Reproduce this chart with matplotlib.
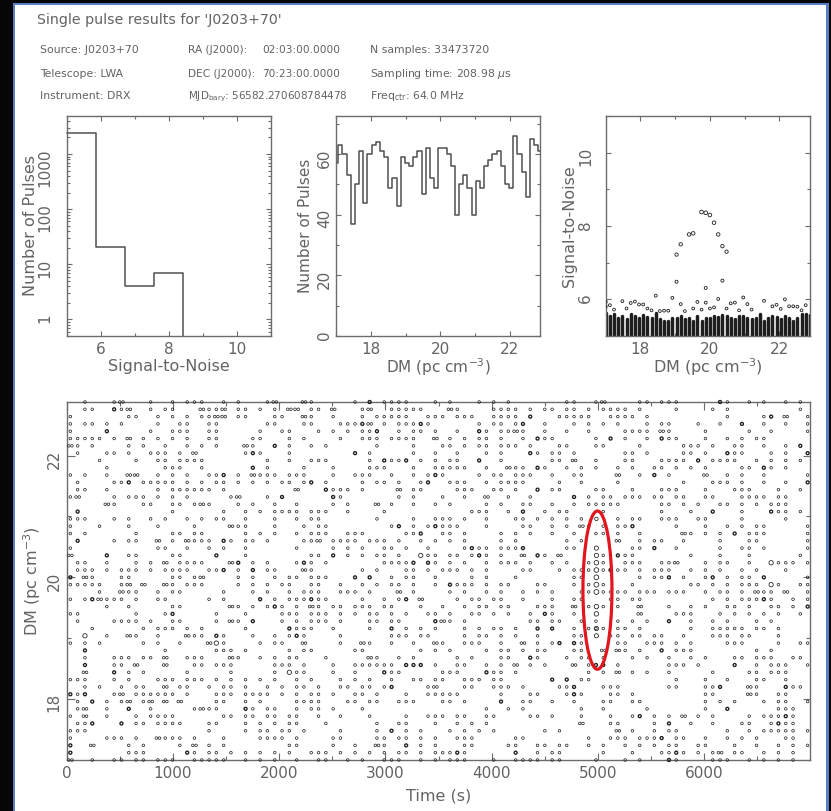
import matplotlib
matplotlib.use("Agg")
import matplotlib.pyplot as plt
from matplotlib.patches import Ellipse, Rectangle
from matplotlib.ticker import MultipleLocator, LogLocator, NullFormatter, FuncFormatter

# ------------------------------------------------------------------ data
dm_values = [17.00, 17.12, 17.24, 17.36, 17.48, 17.60, 17.72, 17.84, 17.96, 18.08,
             18.20, 18.32, 18.44, 18.56, 18.68, 18.80, 18.92, 19.04, 19.16, 19.28,
             19.40, 19.52, 19.64, 19.76, 19.88, 20.00, 20.12, 20.24, 20.36, 20.48,
             20.60, 20.72, 20.84, 20.96, 21.08, 21.20, 21.32, 21.44, 21.56, 21.68,
             21.80, 21.92, 22.04, 22.16, 22.28, 22.40, 22.52, 22.64, 22.76, 22.88]

pulses_per_dm = [57, 63, 60, 53, 37, 50, 61, 44, 60, 63,
                 64, 61, 59, 49, 52, 43, 59, 57, 56, 59,
                 61, 47, 62, 52, 49, 62, 62, 60, 56, 40,
                 50, 53, 49, 40, 51, 49, 56, 58, 60, 61,
                 56, 50, 49, 66, 60, 54, 46, 65, 63, 61]

snr_bin_edges = [5.0, 5.857, 6.714, 7.571, 8.429, 9.286, 10.143, 11.0]
snr_bin_counts = [2450, 21, 4, 7, 0, 0, 0]

# top of the dense block of S/N ~5 candidates at every DM trial
column_top_snr = [5.62, 5.55, 5.60, 5.50, 5.55, 5.45, 5.60, 5.55, 5.50, 5.58,
                  5.52, 5.50, 5.62, 5.45, 5.42, 5.42, 5.50, 5.48, 5.55, 5.45,
                  5.50, 5.40, 5.55, 5.42, 5.50, 5.48, 5.55, 5.52, 5.58, 5.55,
                  5.50, 5.45, 5.55, 5.55, 5.50, 5.45, 5.48, 5.60, 5.42, 5.50,
                  5.55, 5.52, 5.45, 5.55, 5.50, 5.42, 5.50, 5.60, 5.60, 5.58]

# individual brighter candidates (DM, S/N)
extra_dm = [17.00, 17.00, 17.12, 17.24, 17.48, 17.60, 17.72, 17.84, 17.96, 18.08,
            18.20, 18.32, 18.44, 18.56, 18.68, 18.80, 18.92, 19.04, 19.16, 19.28,
            19.52, 19.64, 19.76, 19.88, 19.88, 20.00, 20.12, 20.24, 20.36, 20.48,
            20.60, 20.72, 20.84, 21.08, 21.20, 21.56, 21.80, 21.92, 22.04, 22.16,
            22.28, 22.40, 22.52, 22.64, 22.76]
extra_snr = [5.93, 5.80, 5.84, 5.72, 5.95, 5.75, 5.90, 5.94, 5.86, 5.86,
             5.75, 5.70, 6.10, 5.68, 5.69, 5.69, 6.04, 6.48, 5.87, 5.68,
             5.75, 5.93, 5.72, 6.31, 5.91, 5.75, 5.78, 6.01, 6.51, 5.75,
             5.89, 5.91, 5.70, 5.87, 5.72, 5.96, 5.81, 5.85, 5.74, 6.00,
             5.81, 5.81, 5.80, 5.70, 5.84]

# the pulsar: single pulse at ~4985 s seen over a range of DMs
pulse_time = 4985.0
pulse_dm = [20.96, 20.48, 20.36, 20.24, 20.12, 20.00, 19.88, 19.76, 19.52, 19.40, 19.16, 19.04]
pulse_snr = [6.05, 7.30, 7.45, 7.77, 8.09, 8.30, 8.36, 8.38, 7.80, 7.77, 7.50, 7.22]

# DM-vs-time candidates, transcribed row by row (top row = highest DM).
# one character per 68.7 s time cell:  . none, o one, 2 two, @ brighter, O bright
cell_seconds = 68.7
band_a = [  # cells 0-19
    "..o...o2...o..o.ooo.", "..oo..@o2..o.oo...2o", "o.......oo..o.o.o.oo", "o.oo.o.o....o..oo..o",
    "o....@.....o..ooo..o", "ooooo.o.2.o.o.o.o..o", "2o.o....o.o..o..o.o.", ".o...oo.o..ooo.o.2..",
    "....o....o..oo.oooo.", ".....o.......ooo..o.", "o.o..o..22..o.o.o..o", ".o....oo@.ooooo.o.o.",
    ".oo..o......o.oooooo", "o2....o.ooo.o.o.o...", ".....2o...oo..oo.o2o", ".@............o.....",
    "ooo...o.o..o.o..o.o.", "o...o...o...o....o..", "o.o......o....oo.oo.", ".@....o.oo..2.o.2ooo",
    "o...........oo..o..o", "2....@..oo....oo....", ".oo..o...o.o.2.oooo.", ".ooo.o.ooo.o.oooo..o",
    "@.2o...oo.....oo.o2.", "ooooo..o2.2..2o.ooo.", "....o..2oo..o.oo....", "o.o@2ooo.o..oo.....o",
    ".....o..o.....oo....", "oo.......o...o@.....", ".o....oooo.o..oo....", "...o......o.ooo.o.o.",
    "..O..o..2o..o...2oo.", "o.o.o.....o.o..o...2", "..@..........o......", "..o...ooo.oo.2..ooo.",
    "..@...oo.2...2...oo.", "..2...@.o.o.....o...", "ooo...o.o...ooo.ooo.", "..o.o..o.oo..2.oo..o",
    "@o@...o2.oooooo.o...", ".o.@.o.o2.o2.2.2....", ".o2..o..@..o.....o2o", "o.2..o...o.oooo.....",
    ".oo@...@.oo.oooo...o", "ooo................o", "o....ooo.o..2ooo.o..", "@..2....o.o....o.2.o",
    "@.......ooo.....@o.o", "2..o..oo.oo.ooo..ooo"]
band_b = [  # cells 20-39
    ".o.o...o2...2o.....o", "o2.oo.o.o.22.oo.2...", "22.oo...oo..2o..o...", "o......oo...oo...ooo",
    "o.....o..oo...o.o.o.", "o....oo...o.o....o..", "o...2o..@.o..o.o....", "....o@o...o........@",
    ".......o..o..ooo....", ".....@.o....o...o...", "o@.o.2ooo.ooo...o..o", "oo.o.o.o.oo.o@.o....",
    ".o.........2...@ooo.", "..o2...o.@......@o..", "...o.o..o..o....o.o.", ".o..o.o.oooo.ooo..o.",
    "oo..o...o..o.oo.....", "..2oo...o...o.oo....", "....o.o.o..o.ooo..oo", ".@o.oo.o....oo2.oooo",
    ".o..o......o....o.o.", "@...o........oo.@.o.", "..2@.o.o...o@o.o....", "o@.o.@.oo...2o......",
    "...o.o..o.oo.ooo...@", "...o.o.o.oo..oo..o..", ".o...o.o..o.ooo..ooo", ".o....@.o.ooo@oo....",
    "..2o.o.o@o.o.2o.oo.o", "o...o....ooo.ooo.o.o", "o.2o.@...o.o.ooo.o..", "....o.....@ooo..o...",
    "@o...o..o.o@o....o..", "Oo....o.oo..2....o..", "ooo.o.....o.oo.....o", "..2o..o.o.oo...o....",
    "ooo.....ooo.o...o..o", "..o.....o.Ooo...o..o", "o.o.o.o.o..o.o...o.o", ".oo.o..o.o.oo.o..oo.",
    "ooo.oooo.o.o.oo.o..o", "oo..o.o....oooo...oo", "o...@o.oo..o.oo.o...", ".oo.oo.oo.oo..o..o..",
    "o...o.o.o.oo...o....", "....o.oo.oo.o....o..", ".o....oooo.o....oo..", ".o........oo....o..o",
    "o.o.o.o.o.o..ooo.o.o", "oo..o.o.o..o..oo..o."]
band_c = [  # cells 40-59
    ".@.oooo...o.o...o.o.", "o2..ooooo...2o....oo", "o.ooooo..ooo.ooo..oo", "@2.o.ooo@o......o.oo",
    "oo@..o.oo.o..o..@o.o", "ooo.oooo..2.o.o.oo.o", "..o....o...oo.o.oo.o", ".o.....o..o..o...o.o",
    ".o.@oo@.o.o.oo..@..o", ".ooo...o..ooooo..o..", "oo..o..o.o@o....o.oo", "o.oo.o..o@..ooo..o.o",
    "o....2.oo....ooo..oo", ".....o.o...o..o..2..", "..2.o..o..o.o....o.o", "...o...........ooo..",
    "..o....o..ooo.o..o..", "....o@.o.o@ooo...o..", "o.....oo@..oo.o....o", ".ooo.o..o.o.o.o....o",
    "o..oo.o..o....o@oo.o", "o.oo.o..Ooo.oo.o@o.o", "...oooo@.@o.o.o..o.o", "o.o...oo.o.ooo.o.o..",
    ".@..o.oo..o....o.o..", "o.o.oo.o..o.@ooo.o.o", ".o...2.o....o.o..o.o", "o..o.o@.2....o.oo.oo",
    "oo.oo...o..o..o.oo.o", ".oo.o.o..oo.o..oo.o.", ".oo.oo....@2o.o.....", ".o..@.o.o.o...o.o.oo",
    "....ooo.oo....o.oo.o", "2o..o..o..2o..ooo..o", "o.......o.o.o....o.o", ".2o..o.o.....o.o...o",
    "ooooo.@@@.o..oo..o.o", "...@oo.....ooo...@oo", ".o..o..oo.oo..ooo.oo", "oo.o@....o2...oo..oo",
    "o.o...o..ooooo.....o", ".oo..ooo...oo.o....@", "o................o..", ".o....o..ooo.oo..oo.",
    "..o..oo...o..o.o.o..", "..o.@.o.o...o.o.o.o.", "..oo.oo.o.o..ooo....", "..2o..@.o.o...oo....",
    ".o.o.oo.o.ooo@o.....", "o..ooo..o.o.ooo...o."]
band_d = [  # cells 60-79
    "o.......oo..o2....oo", "oo.o.oo.oo.o.oooo.o.", "oo.@...ooooo..oooo.o", ".o@..o...o.o.o.o...o",
    "o2o..o..o..o....oooo", "..o.@oo.....o.@.o..o", "oo.o...oo...oo....o.", "...@o.oo.o......oo.o",
    "......oo.2..o...oo..", "2oo.@o..o.o.o..o.o..", ".ooo..o..oo....2..o.", "ooo....o..o....o....",
    ".o..@.oo....oo...o..", "o..o.....@.o.oo.ooo.", "..oo..o..o.ooooo....", "o.@..o.oo....o......",
    ".oo.o.o.o.o....o.oo.", "..oo..o.o.2o.o.oo@..", ".o.o..o..o..oo.o..o.", ".o......o.o....2..o.",
    "oo@.....oo.......oo.", "..2.@o.2.....o.@oo..", "oo.o..o.o..o.o..ooo.", "..oo...o.ooo.o@oo.o.",
    ".o.......oo.......o.", "o...oo...o.o.o...o..", "..o.o.o...oo.oooo.oo", "..o...o..oo...oo.oo.",
    "o...ooo..2.o.o.o..2.", "o..o.@o..o........2.", "...oo.oo..o.o..o.o.o", ".o..@.@..o.ooo.oo.o.",
    ".o..o....oo...oo.oo.", "..2.o.o@.@o....oo..o", "o.o.oo...oo..2.2o.o.", "o..@o...o.oo.o...o.o",
    ".2.o.o...2.o@@.o....", ".o.........o.o.2.o.o", "......@.@.oo........", "o.o....oo@...ooo....",
    "...oo...o@o...oo.o..", "..oo..o..o...oo..oo.", "o.o.......o..o.....o", "...oo.o...o...o..o@.",
    "..........2...oo....", ".....o.o.......2.o..", ".oo........o..ooo.oo", "oo..oo.oo..o.o..o.o.",
    ".@..o.oo.....o...o..", ".oooo.oo....o...o.o."]
band_e = [  # cells 80-101
    ".ooo.....@o..o.o..o.o.", "...o....o.o.........o.", "..........o....o@.2..o", ".oo...o..o..@..o..o..o",
    ".2o....o.....o..o....o", ".@oo...o..o.o.oo......", "....ooo.o..oo..o..o.@.", "....oo.o..@oo...o.o..@",
    ".oooo.@.oooo..o.o.o.o.", "oo.o.o.o....oo.@o.o...", "@.o....2..o.o..o.....o", "....o...ooo.o..o..o..@",
    ".ooo...o...ooo...o..o.", "oo.oo..oo...oooo.oo...", ".oo.o.o..oo.o.o.ooo...", ".o...o..@...o...@oo.o.",
    ".ooo..oo....o.....o...", "...o...o..o.o.oo.....o", "....2o.o.o.@.ooo.....o", "oo..o....o...oo......o",
    "@..o.....o..oo.o.....o", ".....o...o...o......o.", ".oo2...o.oo..o..Oooo.o", "ooo..o.o.o..o.o...o...",
    "oo@.o..o@.o.oo.@.....o", ".....oo.o.o.ooo.Oo..oo", "o.ooo..o.oo.o.2oo.2..o", "........o.o.ooo@o..o.o",
    "..o..o.o..oo.o..oo.o.@", "...ooo...o.o.o.o.o..o.", "..@..o..o.o...o.o.....", ".....o..ooooo.oo.o....",
    "oo..o...ooo.oo...o....", "oo.o.o....ooo....o..oo", ".@.ooo........o.o.....", "..o..o.o...oo.ooo..oo.",
    "..ooo.o....@..o.ooo..o", "..o.....o....oo.ooo...", "...o...o..o...oo..o...", "..oo...oo@...2o...@oo.",
    ".......oo....2o..oo...", ".......o.o.o...o.oo..o", ".......o..@......ooo..", "o.o.2.o.o....o.ooo@o..",
    "o.@..o..o...oo..o@oo..", "o.oo......o..o.ooooo.o", "o@.oo..o..o.o.o...oo..", "o.oo..oo...o..o..o.o.o",
    ".oo@o.o.o2.oo..o.o.o..", "..@o....ooo..o.o.o.o.."]

time_ticks = [0, 1000, 2000, 3000, 4000, 5000, 6000]
t_total = 6995.3

info_left = ["Source: J0203+70", "Telescope: LWA", "Instrument: DRX"]
info_mid_labels = ["RA (J2000):", "DEC (J2000):"]
info_mid_values = ["02:03:00.0000", "70:23:00.0000"]
info_mjd = r"MJD$_{\mathrm{bary}}$: 56582.270608784478"
info_right = ["N samples: 33473720", r"Sampling time: 208.98 $\mu$s", r"Freq$_{\mathrm{ctr}}$: 64.0 MHz"]
title = "Single pulse results for 'J0203+70'"

# ------------------------------------------------------------------ figure
W, H, DPI = 831, 811, 100
plt.rcParams['font.family'] = ['DejaVu Sans']
plt.rcParams['mathtext.fontset'] = 'dejavusans'
fig = plt.figure(figsize=(W / DPI, H / DPI), dpi=DPI, facecolor='white')

TXT = '#636363'
AXC = '#6c6c6c'
PTC = '#1e1e1e'


def fx(x):
    return x / W


def fy(y):
    return 1 - y / H


def add_ax(x0, y0, x1, y1):
    return fig.add_axes([fx(x0), fy(y1), (x1 - x0) / W, (y1 - y0) / H])


def style(ax, maj, mnr, xpad, ypad):
    for s in ax.spines.values():
        s.set_color(AXC)
        s.set_linewidth(1.0)
    ax.tick_params(which='both', direction='in', top=True, right=True, color=AXC,
                   width=0.8, labelcolor=TXT, labelsize=11)
    ax.tick_params(which='major', length=maj)
    ax.tick_params(which='minor', length=mnr)
    ax.tick_params(axis='x', pad=xpad)
    ax.tick_params(axis='y', pad=ypad, labelrotation=90)
    ax.set_facecolor('none')


def place_labels(ax, x0, y0, x1, y1, xlab, ylab, xoff, yoff, size=11.5):
    ax.set_xlabel(xlab, fontsize=size, color=TXT)
    ax.set_ylabel(ylab, fontsize=size, color=TXT)
    ax.xaxis.label.set_va('center')
    ax.yaxis.label.set_va('center')
    ax.xaxis.set_label_coords(0.5, -xoff / (y1 - y0))
    ax.yaxis.set_label_coords(-yoff / (x1 - x0), 0.5)


# frame of the screenshot
fig.add_artist(Rectangle((0, 0), fx(13), 1, transform=fig.transFigure, fc='#050505', ec='none', zorder=0))
fig.add_artist(Rectangle((0, fy(3)), 1, 3 / H, transform=fig.transFigure, fc='#050505', ec='none', zorder=0))
fig.add_artist(Rectangle((fx(828.5), 0), 1 - fx(828.5), 1, transform=fig.transFigure, fc='#050505', ec='none', zorder=0))
fig.add_artist(Rectangle((fx(13), 0), 2 / W, fy(3), transform=fig.transFigure, fc='#5a7cc0', ec='none', zorder=0))
fig.add_artist(Rectangle((fx(826.3), 0), 2.2 / W, fy(3), transform=fig.transFigure, fc='#5a7cc0', ec='none', zorder=0))
fig.add_artist(Rectangle((fx(13), fy(5)), (828.5 - 13) / W, 2 / H, transform=fig.transFigure, fc='#5a7cc0', ec='none', zorder=0))

# header text
fig.text(fx(37), fy(24), title, fontsize=10.2, color=TXT, ha='left', va='baseline')
base_y = [53, 77, 99]
for s, y in zip(info_left, base_y):
    fig.text(fx(40), fy(y), s, fontsize=7.8, color=TXT, ha='left', va='baseline')
for s, v, y in zip(info_mid_labels, info_mid_values, base_y[:2]):
    fig.text(fx(188), fy(y), s, fontsize=7.6, color=TXT, ha='left', va='baseline')
    fig.text(fx(340), fy(y), v, fontsize=7.6, color=TXT, ha='right', va='baseline')
fig.text(fx(188), fy(base_y[2]), info_mjd, fontsize=7.5, color=TXT, ha='left', va='baseline')
for s, y in zip(info_right, base_y):
    fig.text(fx(370), fy(y), s, fontsize=7.8, color=TXT, ha='left', va='baseline')

TOP0, TOP1 = 116, 336

# ---------------- S/N histogram
x0, x1 = 66.7, 270.9
ax1 = add_ax(x0, TOP0, x1, TOP1)
style(ax1, 3.6, 2.0, 4.0, 10.0)
ax1.set_yscale('log')
ax1.set_xlim(snr_bin_edges[0], snr_bin_edges[-1])
ax1.set_ylim(0.5, 2 * max(snr_bin_counts))
nz = [i for i, c in enumerate(snr_bin_counts) if c > 0]
last = nz[-1]
xs, ys = [], []
for i in range(last + 1):
    xs += [snr_bin_edges[i], snr_bin_edges[i + 1]]
    ys += [snr_bin_counts[i], snr_bin_counts[i]]
xs.append(snr_bin_edges[last + 1])
ys.append(0.5)
ax1.plot(xs, ys, color='#505050', lw=1.1, clip_on=False)
ax1.xaxis.set_major_locator(MultipleLocator(2))
ax1.xaxis.set_minor_locator(MultipleLocator(1))
ax1.yaxis.set_major_locator(LogLocator(base=10, numticks=10))
ax1.yaxis.set_minor_locator(LogLocator(base=10, subs=[2, 3, 4, 5, 6, 7, 8, 9], numticks=20))
ax1.yaxis.set_major_formatter(FuncFormatter(lambda v, p: f"{v:g}"))
ax1.yaxis.set_minor_formatter(NullFormatter())
place_labels(ax1, x0, TOP0, x1, TOP1, "Signal-to-Noise", "Number of Pulses", 31, 36)

# ---------------- DM histogram
x0, x1 = 336.2, 540.4
ax2 = add_ax(x0, TOP0, x1, TOP1)
style(ax2, 3.6, 2.0, 4.0, 3.0)
ax2.step(dm_values, pulses_per_dm, where='mid', color='#505050', lw=1.1)
ax2.set_xlim(dm_values[0], dm_values[-1])
ax2.set_ylim(0, 1.1 * max(pulses_per_dm))
ax2.xaxis.set_major_locator(MultipleLocator(2))
ax2.xaxis.set_minor_locator(MultipleLocator(1))
ax2.yaxis.set_major_locator(MultipleLocator(20))
ax2.yaxis.set_minor_locator(MultipleLocator(10))
place_labels(ax2, x0, TOP0, x1, TOP1, r"DM (pc cm$^{-3}$)", "Number of Pulses", 31, 30.5, size=11)

# ---------------- S/N vs DM
x0, x1 = 605.7, 809.9
ax3 = add_ax(x0, TOP0, x1, TOP1)
style(ax3, 3.6, 2.0, 4.0, 9.0)
ax3.set_xlim(dm_values[0], dm_values[-1])
ax3.set_ylim(5, 11)
lc = ax3.vlines(dm_values, 5.0, column_top_snr, color=PTC, lw=2.5)
lc.set_capstyle('round')


def diam_pts(snr, base, k):
    return (base + k * (snr - 5.0)) / 1.389


ax3.scatter(extra_dm, extra_snr, s=[diam_pts(v, 2.5, 0.35) ** 2 for v in extra_snr],
            facecolors='none', edgecolors=PTC, linewidths=0.6, zorder=3)
ax3.scatter(pulse_dm, pulse_snr, s=[diam_pts(v, 2.5, 0.35) ** 2 for v in pulse_snr],
            facecolors='none', edgecolors=PTC, linewidths=0.6, zorder=3)
ax3.xaxis.set_major_locator(MultipleLocator(2))
ax3.xaxis.set_minor_locator(MultipleLocator(1))
ax3.yaxis.set_major_locator(MultipleLocator(2))
ax3.yaxis.set_minor_locator(MultipleLocator(1))
place_labels(ax3, x0, TOP0, x1, TOP1, r"DM (pc cm$^{-3}$)", "Signal-to-Noise", 31, 36)

# ---------------- DM vs time
x0, y0, x1, y1 = 66.7, 402, 810, 760
ax4 = add_ax(x0, y0, x1, y1)
style(ax4, 5.4, 2.9, 4.6, 3.6)
ax4.set_xlim(0, t_total)
ax4.set_ylim(dm_values[0], dm_values[-1])

lens = [20, 20, 20, 20, 22]
small_t, small_d, mid_t, mid_d, big_t, big_d = [], [], [], [], [], []
n = len(dm_values)
for k in range(n):
    row = "".join(b[k].ljust(L, '.')[:L] for b, L in zip([band_a, band_b, band_c, band_d, band_e], lens))
    dm = dm_values[n - 1 - k]
    for j, ch in enumerate(row):
        tc = (j + 0.5) * cell_seconds
        if ch == 'o':
            small_t.append(tc); small_d.append(dm)
        elif ch == '2':
            small_t += [tc - 0.22 * cell_seconds, tc + 0.22 * cell_seconds]; small_d += [dm, dm]
        elif ch == '@':
            mid_t.append(tc); mid_d.append(dm)
        elif ch == 'O':
            big_t.append(tc); big_d.append(dm)

ax4.scatter(small_t, small_d, s=(2.6 / 1.389) ** 2, facecolors='none', edgecolors=PTC,
            linewidths=0.5, zorder=3, clip_on=False)
ax4.scatter(mid_t, mid_d, s=(3.0 / 1.389) ** 2, facecolors='none', edgecolors=PTC,
            linewidths=0.95, zorder=3, clip_on=False)
ax4.scatter(big_t, big_d, s=(4.3 / 1.389) ** 2, facecolors='none', edgecolors=PTC,
            linewidths=0.55, zorder=3, clip_on=False)
ax4.scatter([pulse_time] * len(pulse_dm), pulse_dm,
            s=[diam_pts(v, 2.8, 0.6) ** 2 for v in pulse_snr],
            facecolors='none', edgecolors=PTC, linewidths=0.55, zorder=3)
ax4.add_patch(Ellipse((4995, 19.79), width=273, height=2.6, fc='none', ec='#e3161d', lw=2.3, zorder=4))
ax4.set_xticks(time_ticks)
ax4.xaxis.set_minor_locator(MultipleLocator(500))
ax4.yaxis.set_major_locator(MultipleLocator(2))
ax4.yaxis.set_minor_locator(MultipleLocator(1))
place_labels(ax4, x0, y0, x1, y1, "Time (s)", r"DM (pc cm$^{-3}$)", 36, 35)

fig.savefig("out.png", dpi=DPI, facecolor=fig.get_facecolor())
